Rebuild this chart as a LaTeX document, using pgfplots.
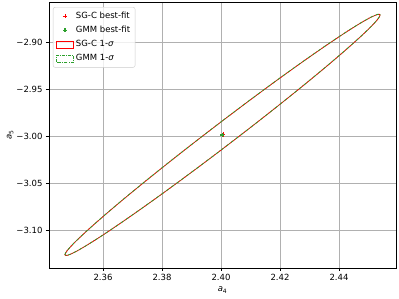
\documentclass[border=0pt]{standalone}
\usepackage{pgfplots}
\pgfplotsset{compat=1.18}
\usepackage{fontspec}
\setmainfont{DejaVu Sans}
\definecolor{tabgreen}{RGB}{44,160,44}
\pgfplotsset{
  patchlegend/.style={legend image code/.code={\draw[##1, sharp corners] (0pt,-3.5pt) rectangle (17pt,3.5pt);}},
  marklegend/.style={legend image code/.code={\path[draw=none, fill=none] (0pt,-3.5pt) rectangle (17pt,3.5pt); \draw[##1, only marks, sharp corners] plot coordinates {(8.5pt,0pt)};}}
}
\begin{document}
\begin{tikzpicture}
\begin{axis}[
  at={(0,0)}, anchor=south west,
  scale only axis, width=347pt, height=266pt,
  xmin=2.3417, xmax=2.4593, ymin=-3.1404, ymax=-2.8574,
  xtick={2.36,2.38,2.40,2.42,2.44},
  xticklabels={2.36,2.38,2.40,2.42,2.44},
  ytick={-3.10,-3.05,-3.00,-2.95,-2.90},
  yticklabels={−3.10,−3.05,−3.00,−2.95,−2.90},
  tick label style={font=\fontsize{8.5}{10}\selectfont},
  tick align=outside, tick pos=left, major tick length=3pt,
  every tick/.style={black, line width=0.6pt},
  axis line style={line width=0.7pt},
  grid=major, major grid style={color=black!31, line width=0.7pt},
  xlabel={\fontsize{8.5}{10}\selectfont\textit{a}\textsubscript{4}},
  ylabel={\fontsize{8.5}{10}\selectfont\textit{a}\textsubscript{5}},
  xlabel style={at={(axis description cs:0.5,-0.083)}, anchor=center},
  ylabel style={at={(axis description cs:-0.112,0.5)}, anchor=center},
  legend style={at={(axis description cs:0.0115,0.981)}, anchor=north west,
    font=\fontsize{8.5}{10}\selectfont, draw=black!20, fill=white, fill opacity=0.8,
    text opacity=1, rounded corners=2pt, row sep=2.2pt, inner xsep=3pt, inner ysep=3pt,
    /tikz/every even column/.append style={column sep=5pt}},
  legend cell align=left,
]
\addplot[only marks, mark=+, red, mark size=2.2pt, line width=0.8pt, marklegend] coordinates {(2.4007,-2.9985)};
\addlegendentry{SG-C best-fit}
\addplot[only marks, mark=+, tabgreen, mark size=2pt, line width=1.2pt, marklegend] coordinates {(2.4004,-2.9988)};
\addlegendentry{GMM best-fit}
\addplot[red, line width=0.8pt, smooth, patchlegend]
 coordinates {
(2.4005,-2.9838) (2.39123,-3.00616) (2.38224,-3.02831) (2.3738,-3.04956)
(2.36617,-3.06927) (2.3596,-3.08683) (2.35426,-3.10172) (2.35032,-3.11348)
(2.34791,-3.12176) (2.3471,-3.1263) (2.34791,-3.12696) (2.35032,-3.12374)
(2.35426,-3.11672) (2.3596,-3.10611) (2.36617,-3.09225) (2.3738,-3.07554)
(2.38224,-3.05651) (2.39123,-3.0357) (2.4005,-3.0138) (2.40977,-2.99144)
(2.41876,-2.96929) (2.4272,-2.94804) (2.43483,-2.92833) (2.4414,-2.91077)
(2.44674,-2.89588) (2.45068,-2.88412) (2.45309,-2.87584) (2.4539,-2.8713)
(2.45309,-2.87064) (2.45068,-2.87386) (2.44674,-2.88088) (2.4414,-2.89149)
(2.43483,-2.90535) (2.4272,-2.92206) (2.41876,-2.94109) (2.40977,-2.9619)
(2.4005,-2.9838)};
\addlegendentry{SG-C 1-{\itshape σ}}
\addplot[tabgreen, line width=0.8pt, smooth, dash pattern=on 3pt off 1.2pt on 0.8pt off 1.2pt, patchlegend]
 coordinates {
(2.4005,-2.9837) (2.39122,-3.00606) (2.38222,-3.02822) (2.37378,-3.04948)
(2.36615,-3.0692) (2.35958,-3.08677) (2.35424,-3.10167) (2.3503,-3.11344)
(2.34789,-3.12173) (2.34708,-3.12628) (2.34789,-3.12694) (2.3503,-3.12372)
(2.35424,-3.1167) (2.35958,-3.10609) (2.36615,-3.09222) (2.37378,-3.0755)
(2.38222,-3.05646) (2.39122,-3.03564) (2.4005,-3.0137) (2.40978,-2.99134)
(2.41878,-2.96918) (2.42722,-2.94792) (2.43485,-2.9282) (2.44142,-2.91063)
(2.44676,-2.89573) (2.4507,-2.88396) (2.45311,-2.87567) (2.45392,-2.87112)
(2.45311,-2.87046) (2.4507,-2.87368) (2.44676,-2.8807) (2.44142,-2.89131)
(2.43485,-2.90518) (2.42722,-2.9219) (2.41878,-2.94094) (2.40978,-2.96176)
(2.4005,-2.9837)};
\addlegendentry{GMM 1-{\itshape σ}}
\end{axis}
\pgfresetboundingbox
\useasboundingbox (-49pt,-31pt) rectangle (350pt,268pt);
\end{tikzpicture}
\end{document}
